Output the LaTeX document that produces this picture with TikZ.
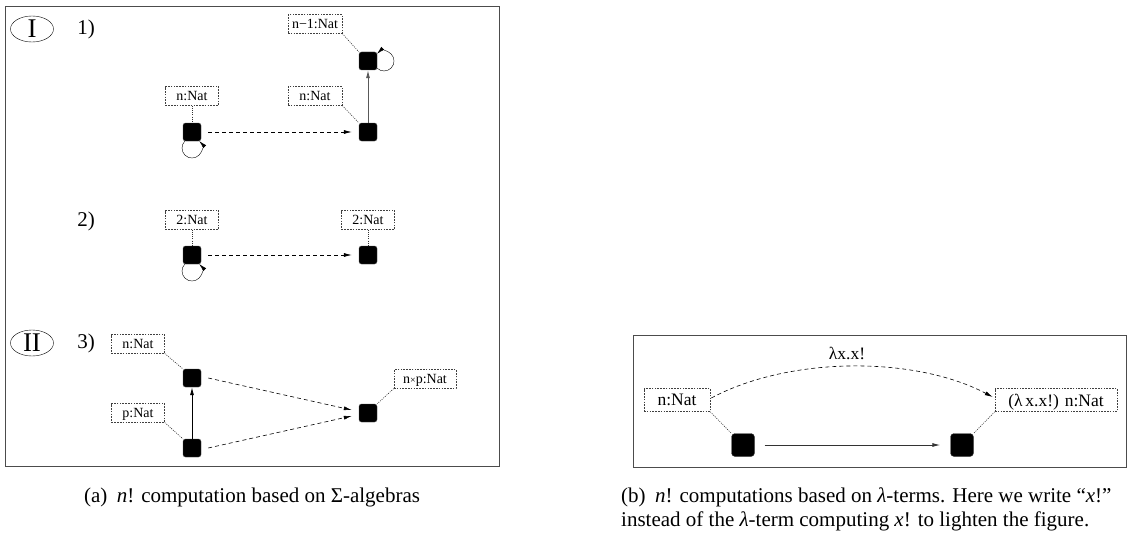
\documentclass[tikz,border=0pt]{standalone}
\usepackage{fontspec}
\setmainfont{Liberation Serif}
\usetikzlibrary{arrows.meta,calc,shapes.geometric}
\begin{document}
\begin{tikzpicture}[x=1pt,y=-1pt,
  state/.style={fill=black,draw=black!70,rounded corners=2.5pt,minimum size=18pt,inner sep=0pt},
  bigstate/.style={state,minimum size=23pt,rounded corners=3.5pt},
  lbl/.style={draw=black!75,dash pattern=on 1.6pt off 1.2pt,line width=0.55pt,
              font=\fontsize{14}{15}\selectfont,inner sep=0pt,minimum height=18.5pt,text depth=0pt},
  biglbl/.style={lbl,minimum height=23pt,font=\fontsize{17.5}{19}\selectfont},
  tie/.style={black!80,dash pattern=on 1pt off 1.2pt,line width=0.6pt},
  tip/.style={-{Latex[length=8pt,width=4pt]}},
  move/.style={tip,dash pattern=on 4pt off 3pt,line width=0.6pt},
  part/.style={draw,ellipse,inner sep=0pt,minimum width=43pt,minimum height=26pt,font=\fontsize{27}{27}\selectfont},
  num/.style={font=\fontsize{21}{21}\selectfont},
  captext/.style={font=\fontsize{21}{24}\selectfont,inner sep=0pt}]
\useasboundingbox (0,0) rectangle (1127,535);

% ---------- left panel: Sigma-algebras ----------
\draw[black!70,line width=1pt] (5,7) rectangle (499,466);
\node[part] (pI) at (32,29) {I};
\node[num] (r1) at (86,29) {1)};
\node[num] (r2) at (86,221) {2)};
\node[part] (pII) at (32,343) {II};
\node[num] (r3) at (86,343) {3)};

% row 1
\node[state] (a1) at (192,132) {};
\node[state] (b1) at (368,132) {};
\node[state] (c1) at (368,61) {};
\node[lbl,minimum width=53pt] (la1) at (192,96) {n:Nat};
\node[lbl,minimum width=54pt] (lb1) at (315,96) {n:Nat};
\node[lbl,minimum width=54pt] (lc1) at (315,24) {n−1:Nat};
\draw[tie] (la1.south) -- (a1.north);
\draw[tie] (lb1.south east) -- (b1.north west);
\draw[tie] (lc1.south east) -- (c1.north west);
\draw[move] ($(a1.east)+(7,0)$) -- ($(b1.west)+(-7,0)$);
\draw[tip,black!65,line width=0.8pt] (b1.north) -- (c1.south);
\draw[tip] ($(a1)+(-7.1,9)$) arc[start angle=-135.4,end angle=-404.6,radius=10];
\draw[tip] ($(c1)+(9,7.1)$) arc[start angle=-225.4,end angle=-494.6,radius=10];

% row 2
\node[state] (a2) at (192,255) {};
\node[state] (b2) at (368,255) {};
\node[lbl,minimum width=53pt] (la2) at (192,220) {2:Nat};
\node[lbl,minimum width=53pt] (lb2) at (368,220) {2:Nat};
\draw[tie] (la2.south) -- (a2.north);
\draw[tie] (lb2.south) -- (b2.north);
\draw[move] ($(a2.east)+(7,0)$) -- ($(b2.west)+(-7,0)$);
\draw[tip] ($(a2)+(-7.1,9)$) arc[start angle=-135.4,end angle=-404.6,radius=10];

% row 3
\node[state] (n3) at (192,378) {};
\node[state] (p3) at (192,448) {};
\node[state] (m3) at (368,413) {};
\node[lbl,minimum width=53pt] (ln3) at (138,344) {n:Nat};
\node[lbl,minimum width=53pt] (lp3) at (138,413) {p:Nat};
\node[lbl,minimum width=62pt] (lm3) at (425,379) {n{\fontsize{10}{10}\selectfont×}p:Nat};
\draw[tie] (ln3.south east) -- (n3.north west);
\draw[tie] (lp3.south east) -- (p3.north west);
\draw[tie] (lm3.south west) -- (m3.north east);
\draw[tip,line width=0.8pt] (p3.north) -- (n3.south);
\draw[move] ($(n3.east)+(7,0)$) -- ($(m3.west)+(-7,-3)$);
\draw[move] ($(p3.east)+(7,0)$) -- ($(m3.west)+(-7,3)$);

% ---------- right panel: lambda-terms ----------
\draw[black!70,line width=1pt] (633,335) rectangle (1126,467);
\node[bigstate] (u) at (743,445) {};
\node[bigstate] (v) at (962,445) {};
\node[biglbl,minimum width=66pt] (lu) at (677,400) {n:Nat};
\node[biglbl,minimum width=122pt] (lv) at (1056,400) {(λ\,x.x!) n:Nat};
\draw[tie] (lu.south east) -- (u.north west);
\draw[tie] (lv.south west) -- (v.north east);
\draw[tip,black!80,line width=0.9pt] ($(u.east)+(10,0)$) -- ($(v.west)+(-10,0)$);
\draw[move] ($(lu.east)+(1,-2)$) .. controls (790,356) and (915,356) .. ($(lv.west)+(-2,-3)$);
\node[font=\fontsize{17.5}{19}\selectfont] (lam) at (847,353) {λx.x!};

% ---------- captions ----------
\node[captext,anchor=base] (ca) at (252,502) {(a)\hspace{0.45em}\textit{n}! computation based on Σ-algebras};
\node[captext,anchor=base west] (cb1) at (621,502) {(b)\hspace{0.45em}\textit{n}! computations based on \textit{λ}-terms. Here we write “\textit{x}!”};
\node[captext,anchor=base west] (cb2) at (621,526) {instead of the \textit{λ}-term computing \textit{x}! to lighten the figure.};
\end{tikzpicture}
\end{document}
